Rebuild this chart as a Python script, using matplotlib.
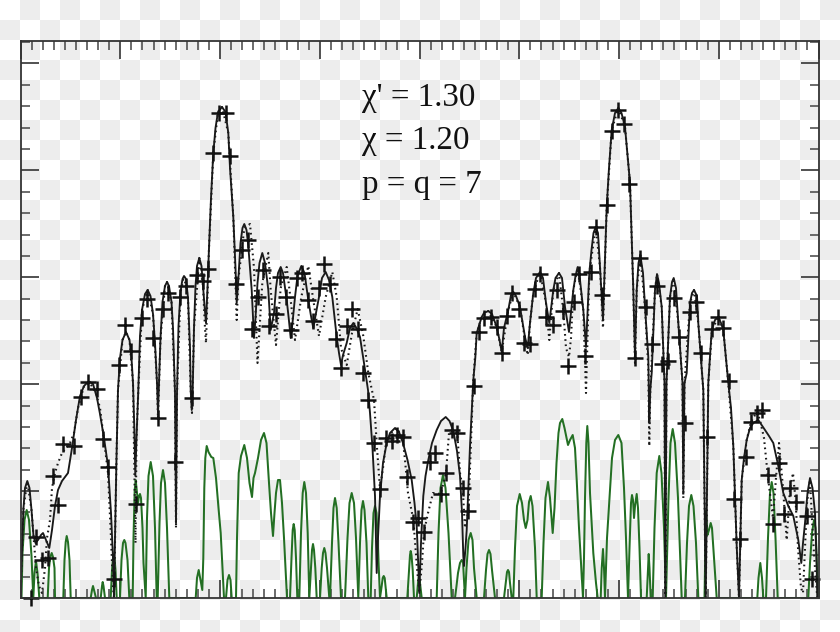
import numpy as np
import matplotlib
matplotlib.use("Agg")
import matplotlib.pyplot as plt
from matplotlib.ticker import MultipleLocator

solid_x = [20.5,22,23.5,25,27.3,29.5,31.5,33.5,35.5,38,41,43,46,49.3,52,55,58,62,68,72,76,80,84,88,90,93,97,100,104,108,111,113,114,
 115,116.5,118,120,122.5,126,129.5,131.5,133,134.3,135.3,
 136.5,138.3,140,142,145,147.7,150.5,153,155,157,158,
 159,160.5,162.5,165,167,169,171.5,173,175,176,
 177,178.5,180.5,182.5,184,186,188,190,190.7,191.7,
 192.7,194,195.5,197,199.3,201.5,203,204.7,206,
 207.5,209,211,213.3,215.5,218,222,225.5,228.3,230,233.3,235.5,236.7,
 238.3,240.5,242.5,244.3,246.5,248.3,250,251.7,254,
 255.5,257.5,259.5,262.3,265,268.3,270.7,
 274,276,278,280.7,283,286.7,288.7,290.7,
 292.5,295,297.5,301.3,304.5,308.3,311,313.3,
 316,319,322,325.7,329,332.3,336.7,339,341,
 343,346.7,350,353.3,356.5,360,364,368,370,372.5,375,376.7,
 378,380,383,386.7,390,395,399,403,407.5,411.7,414.5,416.7,418,419.3,
 421,423.3,425.5,428.3,432,436.7,441,445.7,449.5,453.3,457,460,462,463.3,464,
 465.5,466.7,468.3,470,471.7,473.3,475.3,476.7,481.7,484,488.3,492,496.7,499.5,501.7,
 504,508.3,511,513.3,516,520,525,527.7,
 530,533.3,536,540,543,546,549.3,
 553.3,555.5,559,562,565,569,
 573.3,575.5,577.7,580,583.3,586,
 589.3,591.5,593.5,595.7,598,600,603,
 606.7,609,611.7,615,618.3,621.5,625,630,633.3,635,
 636.7,638.5,640.3,643,645,648.3,649.3,
 650.3,651.7,655,657,659,661.7,664.5,665.3,
 666.5,670,672,673.7,676,678.3,682.5,683.3,
 684.5,686.7,690,692,694,697,698.3,703.3,705.7,
 708.3,711.7,715,718.3,721,723.3,726,728.3,731,733.3,736.7,739,
 741.7,744,746.7,750,753.3,758.3,765,769,773.3,778.3,783.3,788.3,793.3,798.3,801.3,
 803,805,807.5,810,812.5,815,816.5,817.3]
solid_y = [0,50,90,110,117,110,88,62,55,58,63,65,58,50,68,92,108,117,125,150,178,202,212,216,216,214,200,184,160,132,85,40,0,
 60,140,208,240,258,266,258,240,215,170,122,
 160,208,262,288,304,308,302,284,255,215,185,
 215,260,296,312,316,312,296,270,205,75,
 205,272,306,319,322,319,300,250,208,188,
 208,270,312,332,340,332,312,290,275,
 310,350,400,445,470,486,491,486,465,430,381,330,295,
 318,355,370,374,368,352,330,308,260,
 280,315,335,345,335,308,268,
 285,310,325,331,325,298,280,260,
 275,301,322,332,325,298,282,270,
 285,301,320,326,318,301,261,245,233,
 243,255,270,275,270,261,235,208,185,150,102,25,
 60,102,135,155,165,170,166,155,138,118,95,72,40,5,
 55,102,122,138,155,168,177,181,177,167,147,122,85,42,32,
 50,68,110,152,185,218,240,265,281,285,287,284,271,258,246,
 270,288,303,306,302,291,261,250,
 275,305,320,326,320,295,275,
 308,320,325,320,291,266,
 308,322,331,318,288,251,
 325,348,365,371,365,331,278,
 391,430,468,485,490,485,471,415,308,241,
 308,335,343,325,291,241,175,
 208,225,308,324,315,291,215,0,
 215,301,316,320,310,275,215,105,
 215,225,295,305,308,302,275,208,0,
 215,268,278,281,275,268,240,215,190,152,52,0,
 118,140,158,170,175,178,168,162,155,132,105,92,82,58,35,
 55,75,105,120,110,85,40,0]

dotted_x = [20.5,23.5,27.3,31.5,33.5,36,39,42,45,47,50,52,55,58,62,66,70,74,78,84,90,96,100,105,108,111,113,114,
 116.5,118,122.5,126,129.5,133,134.5,135.5,136.5,138.3,142,147.7,153,157,158,
 160.5,165,167,171.5,175,176,177,180.5,184,188,190.7,192,194,199.3,203,205,206,
 209,213.3,218,222,228.3,233.3,236.7,238.3,244.3,250,254,257.5,262.3,268.3,270.7,
 276,280.7,286.7,290.7,295,301.3,308.3,313.3,319,325.7,332.3,336.7,341,346.7,352,357.7,363.3,368.3,374,
 377,380,383,386,391,396.7,402.7,405,408,412,414,417,419.3,
 422,424,428,433,440.7,446,449,451.7,457.3,460,462.7,465,468.3,470,473.3,476.7,
 481.7,488.3,496.7,501.7,508.3,513.3,520,525,527.7,530,533.3,540,546,549.3,
 553.3,559,563.3,566,569,571,573.3,577.7,583.3,586,589.3,595.7,600,603,
 606.7,611.7,618.3,625,630,633.3,635,636.7,640.3,645,648.3,649.3,650.3,655,657,661.7,664.5,665.3,
 666.5,670,673.7,678.3,682.5,683.3,684.5,690,694,698.3,703.3,705.7,708.3,712,718.3,723.3,728.3,733.3,736.7,739,
 741.7,746.7,751,756.7,760,764,767.7,773,776,779,783,786.7,790,793,795.7,798,801,803,807,810,813,815,817.3]
dotted_y = [0,90,117,88,62,30,12,5,30,60,78,110,125,135,145,150,155,165,190,212,215,205,190,150,125,60,10,0,
 140,208,258,266,258,215,120,55,160,208,288,308,284,215,180,
 260,312,316,296,205,70,205,306,322,300,208,185,270,340,312,270,255,
 350,445,486,491,465,381,278,318,370,374,330,235,315,345,308,253,
 310,331,298,258,301,332,298,262,301,326,301,250,233,265,289,262,225,198,
 150,109,130,155,165,170,160,138,105,85,70,30,5,
 35,66,85,105,104,125,165,168,165,125,109,70,87,130,218,265,
 281,287,271,246,288,306,291,258,243,275,305,326,295,258,
 308,325,287,250,241,260,308,331,288,205,325,371,331,270,
 391,468,490,471,415,308,235,308,343,291,230,152,208,308,324,291,215,0,
 215,301,320,275,215,100,215,295,308,275,208,0,215,268,281,268,215,152,52,0,
 118,158,176,186,178,160,123,80,120,155,110,58,110,125,96,50,10,5,95,118,60,30,0]

green_x = [21.5,22.5,24.5,26.7,29,31.5,33.3, 34.5,36,37.5,39.3,
 47.7,49,50.3,51.7,53,54.5,55, 63.3,64.5,65.7,66.7,68,69.5,70.7,
 90.7,92,93,94,96, 100.7,102,102.7,103.5,105,
 110.7,112,113,113.7,114.5,115.5,116.7, 120,121.5,123,124.3,125.5,127.5,129.3,
 132.7,133.5,134.7,135.7,136.5,137.5,138,139,140,141,142.5,143.5,145.7,
 147,148.5,150.7,153,155,156.7, 157.7,159.5,161,163,165,167,169.3,
 195.7,197,198.7,200.5,202.3,203.3,204.3,205.3,206.7,208.5,211.3,213.3,216,218.5,220.7,222.5,224,
 226,227.5,229,230.5,231.7,
 236,237,238.7,241,244.3,247,249.5,252,253.5,255,258,261,264,266.5,269,271,273,274.5,276,278,280,282,284,285.5,287,
 290,291.5,292.7,293.7,294.7,296,297.3, 299.3,301,302.7,304.3,306,307.7,309.3,
 311,312,313,314,315.3,316.7, 320,321.7,323,324.3,325.5,327,329.3,
 330,332,333.5,335,336.7,338.5,341, 345,347.5,349.5,351.7,354,356,358.3,
 360,361.5,363,364.5,366.5,368.3, 370.7,372,373.5,375,376.5,378,380,
 381.7,382.7,383.7,384.7,385.5,386.7, 407.3,409,410,410.7,411.5,412.7,414,
 416.7,418,419,420,421.7, 436.7,438.5,440.5,443,445.5,448.5,451.7,
 455,456.5,458,460,461.7,463,464.5,465,466.5,468.5,470.7,472.5,474,476.7,
 484,486,487.5,489,490.5,492,495, 504,505.7,507,508,509,510,511.7,
 513.3,515,517,519.7,522,524,525.7,527.5,529,530.7,532.5,535,536.7,
 541.7,543.5,545.5,548,550,552.7,554.5,556.5,558.5,560,562.3,564.5,568,570,572.7,575,576.7,579,581,583,
 584,585,586.3,587.3,588.5,590,593.3,596,597.7, 600.7,601.7,603,604,605,
 607,610,612,615,618.3,621.5,624,626,628, 629.5,631,632,633,634,635,636.7,638,639.5,641,
 646.7,648,648.7,649.5,650.7, 652.7,654.5,656.7,659.3,661.5,664,666,
 668.5,670.5,672.7,675,678,681.7, 685,687,689,691.3,693.5,696,698.3,
 704.5,705.5,706,707,707.5,709,710.7,712,714,716.7,
 757.3,758.5,760.3,762,763.3, 766,768,770,771.7,773.5,775.5,777.7,
 808.3,810,812,814,815.5,817,818]
green_y = [0,45,78,88,78,42,0, 25,37,25,0,
 0,30,41,45,41,30,0, 0,38,56,62,56,38,0,
 0,8,12,8,0, 0,12,16,12,0,
 0,28,40,42,40,28,0, 0,38,55,58,55,38,0,
 0,60,108,118,110,100,95,102,104,100,70,35,0,
 80,122,136,122,70,0, 0,75,115,128,115,70,0,
 0,20,28,18,8,40,110,140,152,146,141,140,120,90,65,30,0,
 0,18,23,18,0,
 0,60,125,142,153,140,115,101,120,125,140,158,165,155,115,85,62,85,105,118,118,95,60,30,0,
 0,40,68,74,68,40,0, 0,65,105,116,105,65,0,
 30,48,54,48,30,0, 0,30,45,50,45,30,0,
 0,55,90,100,90,55,0, 0,60,95,105,95,60,0,
 55,88,97,88,55,0, 0,50,85,92,85,50,0,
 12,20,22,20,12,0, 0,28,43,47,43,28,0,
 0,15,23,15,0, 0,65,110,123,110,65,0,
 0,12,25,35,38,36,10,0,30,58,65,58,30,0,
 0,28,44,48,44,28,0, 0,15,26,28,26,15,0,
 0,50,92,104,95,78,70,78,96,102,92,50,0,
 0,55,100,116,100,65,90,135,165,175,179,170,153,158,163,150,118,70,35,0,
 40,100,155,172,155,105,45,15,0, 0,30,49,30,0,
 60,108,140,158,163,155,110,60,0, 50,95,103,98,80,92,104,90,50,0,
 0,30,44,30,0, 0,70,125,142,125,70,0,
 100,155,169,155,100,0, 0,55,92,103,92,55,0,
 0,60,87,70,63,68,75,70,40,0,
 0,20,35,20,0, 0,60,105,116,105,60,0,
 0,35,65,78,70,30,0]

plus_x = [31,35.7,41.7,48.3,58.3,52.7,63.3,74,80.7,88,96.7,102.7,108.3,114.3,136,158.3,175,191.7,
 119.3,125,130.7,141.7,147.3,152.7,163.3,168.3,180,185.7,196.7,203.3,208.3,213.3,219.3,226,230,235.7,241.7,247.7,252.3,258.3,263.3,269.3,275.7,280,285.7,291,296.7,302.3,307.7,313.3,319,324.3,330,335.7,341,346.7,352.3,357.7,363.3,
 368.3,374,380,386,391.7,396.7,402.7,407.3,412.7,418.3,424,430,435,440.7,446,451.7,457.3,462.7,468.3,474,
 479.3,484.3,490.7,496.7,501.7,507.3,512.3,519.3,524,530,535,540.3,546,552.7,556.7,563.3,568.3,574,579.3,585,590.7,596,601.7,607,612.3,618.3,623.7,629.3,635,640.3,645.7,651.7,657,662.3,668.3,673.7,679.3,685,690,695.7,701.3,706.7,712.3,717.7,723.3,729,
 734.3,740,745.7,751,756.7,762.3,767.7,773.3,779,784.3,790,795.7,806.7,812.3]
plus_y = [0,61,38,40,93,122,154,152,201,216,209,159,131,19,94,180,136,200,
 233,273,247,280,299,260,289,305,301,312,323,317,329,445,485,485,442,314,348,358,269,301,328,272,284,321,301,268,320,325,298,277,310,334,314,259,230,272,289,269,225,
 198,155,109,160,157,163,161,121,76,80,66,136,145,104,125,168,165,110,87,212,
 266,280,281,271,245,282,305,289,255,254,309,324,281,273,308,287,232,296,324,242,326,371,303,393,467,488,474,414,240,340,291,254,312,234,237,300,261,175,286,296,245,161,269,281,270,217,
 99,59,141,176,185,188,123,74,135,84,110,96,82,19]

x_major_step = 99.75
x_minor_step = 99.75 / 9
y_major_step = 106.9
y_minor_step = 106.9 / 5
annotation_lines = ["χ' = 1.30", "χ = 1.20", "p = q = 7"]

W, H = 840, 632
fig = plt.figure(figsize=(W / 100, H / 100), dpi=100)

bg = fig.add_axes([0, 0, 1, 1], zorder=0)
nx, ny = W // 20 + 1, H // 20 + 1
checker = (np.add.outer(np.arange(ny), np.arange(nx)) % 2)
bg.imshow(checker, cmap=matplotlib.colors.ListedColormap(["#ffffff", "#ededed"]),
          extent=(0, nx * 20, ny * 20, 0), interpolation="nearest", aspect="auto")
bg.set_xlim(0, W); bg.set_ylim(H, 0); bg.axis("off")

L, R, T, B = 20.5, 818.5, 41, 598
ax = fig.add_axes([L / W, 1 - B / H, (R - L) / W, (B - T) / H], zorder=1)
ax.patch.set_alpha(0)
ax.set_xlim(L, R); ax.set_ylim(0, B - T)

ax.plot(green_x, green_y, color="#236f23", lw=1.45, solid_joinstyle="round", zorder=2)
ax.plot(dotted_x, dotted_y, color="#1a1a1a", lw=1.5, ls=(0, (0.8, 1.7)), zorder=2.1)
ax.plot(solid_x, solid_y, color="#1a1a1a", lw=1.35, solid_joinstyle="round", zorder=2.2)
ax.plot(plus_x, plus_y, ls="none", marker="+", ms=11, mew=1.8, color="#111111", clip_on=False, zorder=2.3)

ax.xaxis.set_major_locator(MultipleLocator(x_major_step, offset=L))
ax.xaxis.set_minor_locator(MultipleLocator(x_minor_step, offset=L))
ax.yaxis.set_major_locator(MultipleLocator(y_major_step))
ax.yaxis.set_minor_locator(MultipleLocator(y_minor_step))
ax.tick_params(which="major", direction="in", length=13, width=1.2, color="#333333",
               top=True, right=True, labelleft=False, labelbottom=False)
ax.tick_params(which="minor", direction="in", length=6.5, width=1.1, color="#444444",
               top=True, right=True)
for s in ax.spines.values():
    s.set_linewidth(1.3); s.set_color("#333333"); s.set_zorder(3)

fam = ["Liberation Serif", "DejaVu Serif"]
for line, yb in zip(annotation_lines, [105.7, 149, 193]):
    fig.text(362 / W, 1 - yb / H, line, family=fam, fontsize=23.8, color="#111111", ha="left", va="baseline", zorder=5)

fig.savefig("out.png", dpi=100)
